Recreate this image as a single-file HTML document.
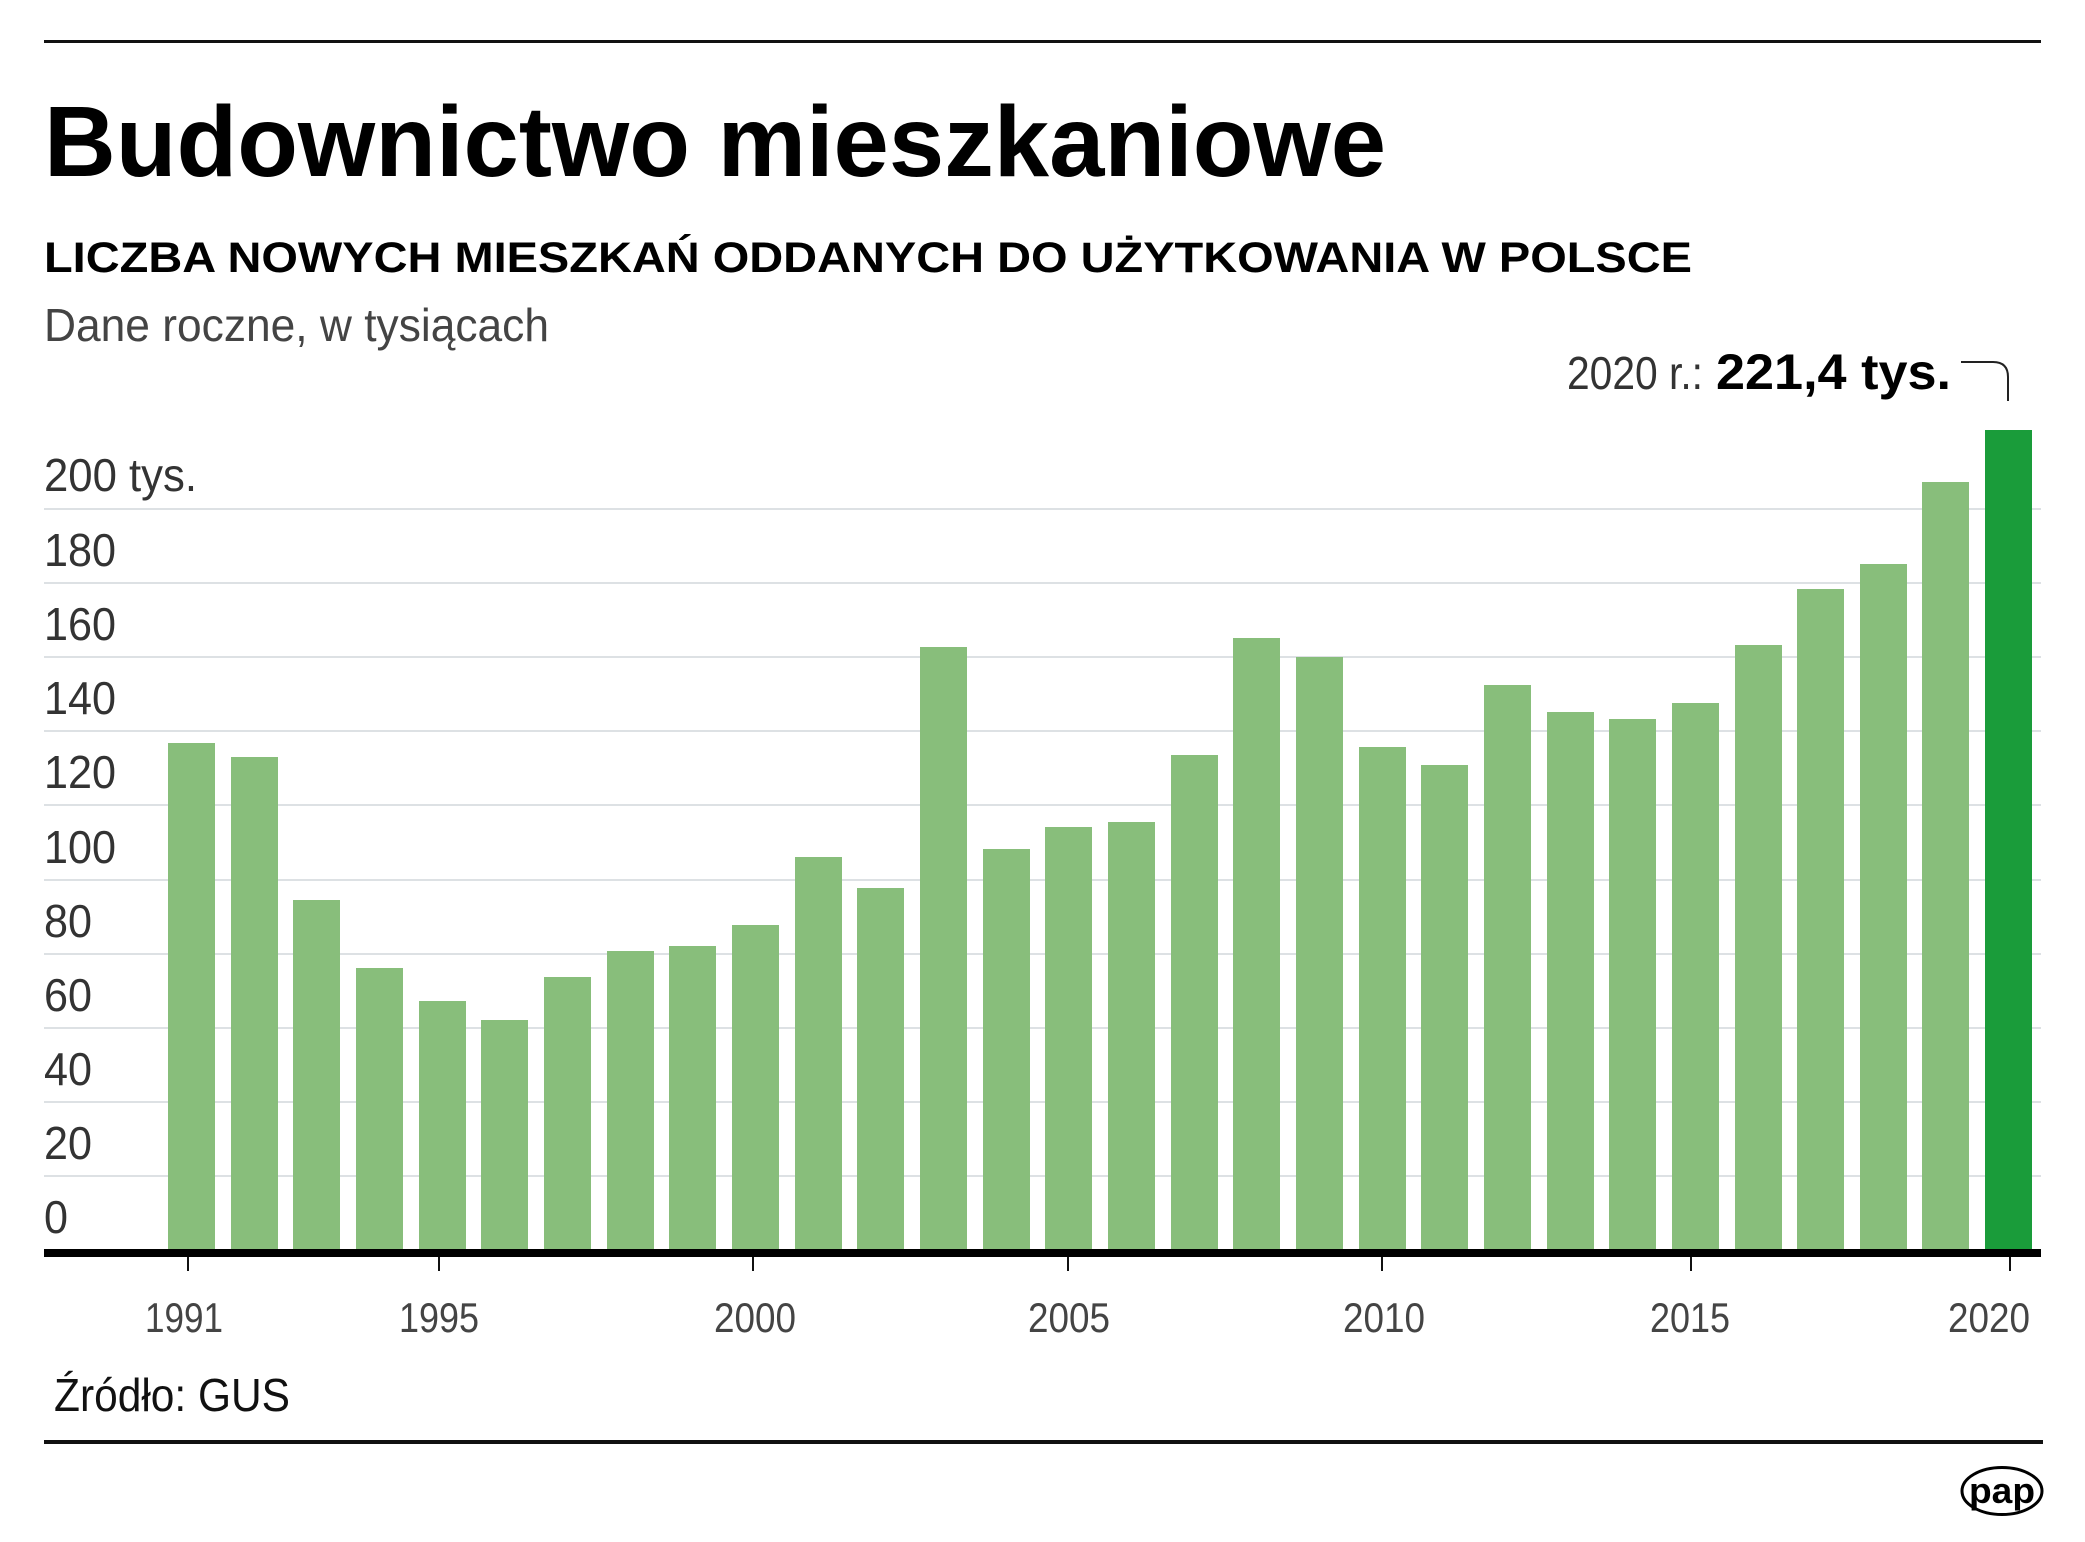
<!DOCTYPE html>
<html><head><meta charset="utf-8"><style>
html,body{margin:0;padding:0;background:#fff;}
svg{display:block;}
text{font-family:"Liberation Sans",sans-serif;}
</style></head><body>
<svg width="2085" height="1542" viewBox="0 0 2085 1542" xmlns="http://www.w3.org/2000/svg">
<rect width="2085" height="1542" fill="#fff"/>
<rect x="44" y="40" width="1997" height="3" fill="#111"/>
<text x="44" y="176" font-size="100" font-weight="bold" fill="#000" textLength="1342" lengthAdjust="spacingAndGlyphs">Budownictwo mieszkaniowe</text>
<text x="44" y="272" font-size="43" font-weight="bold" fill="#000" textLength="1648" lengthAdjust="spacingAndGlyphs">LICZBA NOWYCH MIESZKAŃ ODDANYCH DO UŻYTKOWANIA W POLSCE</text>
<text x="44" y="341" font-size="46" fill="#444" textLength="505" lengthAdjust="spacingAndGlyphs">Dane roczne, w tysiącach</text>
<text x="1567" y="389" font-size="46" fill="#333" textLength="136" lengthAdjust="spacingAndGlyphs">2020 r.:</text>
<text x="1716" y="389" font-size="50" font-weight="bold" fill="#000" textLength="235" lengthAdjust="spacingAndGlyphs">221,4 tys.</text>
<path d="M1961 362 H1993 Q2008 362 2008 377 V401" fill="none" stroke="#222" stroke-width="2"/>
<g stroke="#dde1e4" stroke-width="2">
<line x1="44" x2="2041" y1="1176" y2="1176"/><line x1="44" x2="2041" y1="1102" y2="1102"/>
<line x1="44" x2="2041" y1="1028" y2="1028"/><line x1="44" x2="2041" y1="954" y2="954"/>
<line x1="44" x2="2041" y1="880" y2="880"/><line x1="44" x2="2041" y1="805" y2="805"/>
<line x1="44" x2="2041" y1="731" y2="731"/><line x1="44" x2="2041" y1="657" y2="657"/>
<line x1="44" x2="2041" y1="583" y2="583"/><line x1="44" x2="2041" y1="509" y2="509"/>
</g>
<g font-size="46" fill="#333">
<text x="44" y="491" textLength="153" lengthAdjust="spacingAndGlyphs">200 tys.</text>
<text x="44" y="566" textLength="72" lengthAdjust="spacingAndGlyphs">180</text>
<text x="44" y="640" textLength="72" lengthAdjust="spacingAndGlyphs">160</text>
<text x="44" y="714" textLength="72" lengthAdjust="spacingAndGlyphs">140</text>
<text x="44" y="788" textLength="72" lengthAdjust="spacingAndGlyphs">120</text>
<text x="44" y="863" textLength="72" lengthAdjust="spacingAndGlyphs">100</text>
<text x="44" y="937" textLength="48" lengthAdjust="spacingAndGlyphs">80</text>
<text x="44" y="1011" textLength="48" lengthAdjust="spacingAndGlyphs">60</text>
<text x="44" y="1085" textLength="48" lengthAdjust="spacingAndGlyphs">40</text>
<text x="44" y="1159" textLength="48" lengthAdjust="spacingAndGlyphs">20</text>
<text x="44" y="1233" textLength="24" lengthAdjust="spacingAndGlyphs">0</text>
</g>
<g fill="#88be7b">
<rect x="168" y="743" width="47" height="507"/>
<rect x="231" y="757" width="47" height="493"/>
<rect x="293" y="900" width="47" height="350"/>
<rect x="356" y="968" width="47" height="282"/>
<rect x="419" y="1001" width="47" height="249"/>
<rect x="481" y="1020" width="47" height="230"/>
<rect x="544" y="977" width="47" height="273"/>
<rect x="607" y="951" width="47" height="299"/>
<rect x="669" y="946" width="47" height="304"/>
<rect x="732" y="925" width="47" height="325"/>
<rect x="795" y="857" width="47" height="393"/>
<rect x="857" y="888" width="47" height="362"/>
<rect x="920" y="647" width="47" height="603"/>
<rect x="983" y="849" width="47" height="401"/>
<rect x="1045" y="827" width="47" height="423"/>
<rect x="1108" y="822" width="47" height="428"/>
<rect x="1171" y="755" width="47" height="495"/>
<rect x="1233" y="638" width="47" height="612"/>
<rect x="1296" y="657" width="47" height="593"/>
<rect x="1359" y="747" width="47" height="503"/>
<rect x="1421" y="765" width="47" height="485"/>
<rect x="1484" y="685" width="47" height="565"/>
<rect x="1547" y="712" width="47" height="538"/>
<rect x="1609" y="719" width="47" height="531"/>
<rect x="1672" y="703" width="47" height="547"/>
<rect x="1735" y="645" width="47" height="605"/>
<rect x="1797" y="589" width="47" height="661"/>
<rect x="1860" y="564" width="47" height="686"/>
<rect x="1922" y="482" width="47" height="768"/>
</g>
<rect x="1985" y="430" width="47" height="820" fill="#1a9c3a"/>
<rect x="44" y="1249" width="1997" height="8" fill="#000"/>
<g stroke="#111" stroke-width="2">
<line x1="188" x2="188" y1="1257" y2="1271"/><line x1="439" x2="439" y1="1257" y2="1271"/>
<line x1="753" x2="753" y1="1257" y2="1271"/><line x1="1068" x2="1068" y1="1257" y2="1271"/>
<line x1="1382" x2="1382" y1="1257" y2="1271"/><line x1="1691" x2="1691" y1="1257" y2="1271"/>
<line x1="2010" x2="2010" y1="1257" y2="1271"/>
</g>
<g font-size="42" fill="#444" text-anchor="middle">
<text x="184" y="1332" textLength="78" lengthAdjust="spacingAndGlyphs">1991</text>
<text x="439" y="1332" textLength="80" lengthAdjust="spacingAndGlyphs">1995</text>
<text x="755" y="1332" textLength="82" lengthAdjust="spacingAndGlyphs">2000</text>
<text x="1069" y="1332" textLength="82" lengthAdjust="spacingAndGlyphs">2005</text>
<text x="1384" y="1332" textLength="82" lengthAdjust="spacingAndGlyphs">2010</text>
<text x="1690" y="1332" textLength="80" lengthAdjust="spacingAndGlyphs">2015</text>
<text x="1989" y="1332" textLength="82" lengthAdjust="spacingAndGlyphs">2020</text>
</g>
<text x="54" y="1411" font-size="46" fill="#111" textLength="236" lengthAdjust="spacingAndGlyphs">Źródło: GUS</text>
<rect x="44" y="1440" width="1999" height="4" fill="#111"/>
<ellipse cx="2002" cy="1491" rx="40" ry="23.5" fill="none" stroke="#000" stroke-width="3"/>
<text x="2002" y="1503" font-size="36" font-weight="bold" fill="#000" text-anchor="middle" textLength="66" lengthAdjust="spacingAndGlyphs">pap</text>
</svg>
</body></html>
